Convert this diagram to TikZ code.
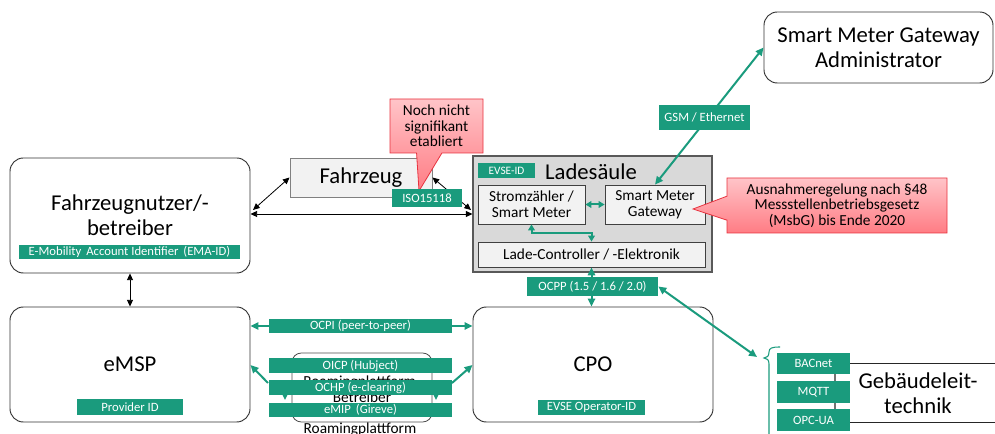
\documentclass[tikz,border=0pt]{standalone}
\usepackage{fontspec}
\setmainfont{Carlito}
\usetikzlibrary{shapes.callouts,arrows.meta}

\definecolor{tealc}{HTML}{1A9B7D}
\definecolor{notetop}{HTML}{FFC4C8}
\definecolor{notebot}{HTML}{FF7C84}
\definecolor{notered}{HTML}{E8323E}
\definecolor{lightfill}{HTML}{F2F2F2}
\definecolor{housefill}{HTML}{D9D9D9}

\newcommand\ftitle{\fontsize{17}{19}\selectfont}
\newcommand\fmid{\fontsize{11.5}{12}\selectfont}
\newcommand\fnote{\fontsize{11.5}{11.8}\selectfont}
\newcommand\ftag{\fontsize{9.5}{11}\selectfont}
\newcommand\fsmall{\fontsize{8.5}{10}\selectfont}

\tikzset{
  % a node spanning the pixel box (x1,y1)-(x2,y2)
  span/.style n args={4}{at={({(#1+#3)/2},{(#2+#4)/2})},
    minimum width={(#3-#1)*0.75pt}, minimum height={(#4-#2)*0.75pt}},
  rbox/.style={draw=black!80, line width=0.7pt, rounded corners=10pt, fill=white,
    inner sep=0pt, font=\ftitle, align=center},
  tag/.style={fill=tealc, text=white, inner sep=0pt, font=\ftag},
  inbox/.style={draw=black!75, line width=0.6pt, fill=lightfill, inner sep=0pt,
    font=\fmid, align=center},
  garrow/.style={draw=tealc, line width=1.5pt,
    {Triangle[length=6pt,width=5.5pt]}-{Triangle[length=6pt,width=5.5pt]}},
  gsingle/.style={draw=tealc, line width=1.5pt, -{Triangle[length=6pt,width=5.5pt]}},
  gshort/.style={draw=tealc, line width=1.5pt,
    {Triangle[length=4.5pt,width=5pt]}-{Triangle[length=4.5pt,width=5pt]}},
  karrow/.style={draw=black, line width=0.6pt,
    {Triangle[length=5pt,width=4.5pt]}-{Triangle[length=5pt,width=4.5pt]}},
  note/.style={rectangle callout, draw=notered, line width=0.6pt,
    top color=notetop, bottom color=notebot, inner sep=0pt, font=\fnote, align=center}
}

\begin{document}
\begin{tikzpicture}[x=0.75pt, y=-0.75pt]
\useasboundingbox (0,0) rectangle (995,434);

% ---- main actors ----
\node[rbox, span={10}{158}{250}{273}] (fnb) {};
\node[font=\ftitle, align=center, inner sep=0pt] (fnbtext) at (130,215)
  {Fahrzeugnutzer/-\\betreiber};
\node[tag, span={19}{245}{240}{259}] (emaid) {E-Mobility\, Account Identifier\, (EMA-ID)};

\node[rbox, span={10}{307}{250}{422}] (emsp) {eMSP};
\node[tag, span={77}{399}{183}{415}] (provid) {Provider ID};

\node[rbox, span={473}{307}{713}{422}] (cpo) {CPO};
\node[tag, span={538}{400}{645}{415}] (opid) {EVSE Operator-ID};

\node[rbox, span={764}{12}{993}{83}] (smga) {Smart Meter Gateway\\Administrator};

\node[draw=black!50, line width=0.7pt, fill=lightfill, inner sep=0pt, font=\ftitle,
  span={290}{158}{432}{197}] (fz) {Fahrzeug};

% ---- charging station ----
\node[draw=black!65, line width=0.8pt, fill=housefill, inner sep=0pt,
  span={473}{156}{712}{272}] (ls) {};
\node[tag, font=\fsmall, span={478}{163}{535}{178}] (evseid) {EVSE-ID};
\node[font=\ftitle, inner sep=0pt] (lstitle) at (591,172) {Ladesäule};
\node[inbox, span={478}{185}{585}{224}] (sz) {Stromzähler /\\Smart Meter};
\node[inbox, span={605}{185}{705}{224}] (smg) {Smart Meter\\Gateway};
\node[inbox, span={478}{242}{705}{267}] (lc) {Lade-Controller / -Elektronik};

% ---- roaming platform ----
\node[draw=black!70, line width=0.6pt, rounded corners=7pt, inner sep=0pt,
  span={292}{353}{432}{422}] (rp) {};
\node[font=\fmid, align=center, inner sep=0pt] (rptext) at (362,389)
  {Roamingplattform-\\Betreiber};
\node[font=\fmid, anchor=base, inner sep=0pt] (rplabel) at (360,433) {Roamingplattform};

% ---- building management ----
\node[font=\ftitle, align=center, inner sep=0pt] (glt) at (918,393) {Gebäudeleit-\\technik};
\coordinate (gltTL) at (850,363);
\coordinate (gltTR) at (995,363);
\coordinate (gltBL) at (850,422);
\coordinate (gltBR) at (995,422);
\draw[black!85, line width=0.7pt] (gltTL) -- (gltTR) (gltBL) -- (gltBR);

% ---- black connectors ----
\coordinate (vehL) at (252,214);
\coordinate (vehR) at (471,214);
\coordinate (diagL) at (253,210);
\coordinate (diagR) at (471,210);
\draw[karrow] (fnb.east |- vehL) -- (ls.west |- vehR);
\draw[karrow] (diagL) -- (fz.west);
\draw[karrow] (fz.east) -- (diagR);
\draw[karrow] (fnb.south) -- (fnb.south |- emsp.north);

% ---- green connectors ----
\draw[gshort] (sz.east) -- (smg.west);
\draw[gshort] (sz.south) -- ++(0,9) -| (lc.north);
\draw[garrow] (smg.north) -- (smga.west);
\draw[garrow] (lc.south) -- (lc.south |- cpo.north);

\node[tag, span={527}{277}{658}{296}] (ocpp) {OCPP (1.5 / 1.6 / 2.0)};
\node[tag, span={659}{105}{750}{130}] (gsm) {GSM / Ethernet};

% bracket grouping the building protocols
\coordinate (gtip) at (757,357);
\draw[tealc, line width=0.8pt] (780,347) .. controls (772,347) and (769,348) .. (769,352)
  .. controls (769,356) and (767,358) .. (764,358)
  .. controls (767,358) and (769,360) .. (769,364) -- (769,434);
\draw[garrow] (ocpp.east) -- (gtip);

\draw[draw=black!55, line width=0.8pt] (835,374) -- (835,409);
\node[tag, span={777}{353}{850}{374}] (bacnet) {BACnet};
\node[tag, span={777}{381}{850}{403}] (mqtt) {MQTT};
\node[tag, span={777}{409}{850}{431}] (opcua) {OPC-UA};

% roaming protocols
\node[tag, span={269}{319}{452}{333}] (ocpi) {OCPI (peer-to-peer)};
\draw[gsingle] (ocpi.west) -- (emsp.east |- ocpi.west);
\draw[gsingle] (ocpi.east) -- (cpo.west |- ocpi.east);

\coordinate (rpL) at (285,391);
\coordinate (rpLe) at (285,400);
\coordinate (rpR) at (436,391);
\coordinate (rpRe) at (436,400);
\draw[gsingle] (rpL) -- (rpLe);
\draw[gsingle] (rpR) -- (rpRe);

\coordinate (ochpL) at (268,383);
\coordinate (ochpR) at (452,383);
\draw[gsingle] (ochpL) -- (emsp.east |- 0,365);
\draw[gsingle] (ochpR) -- (cpo.west |- 0,365);

\node[tag, span={269}{358}{452}{373}] (oicp) {OICP (Hubject)};
\node[tag, span={269}{380}{452}{395}] (ochp) {OCHP (e-clearing)};
\node[tag, span={269}{403}{452}{417}] (emip) {eMIP\, (Gireve)};

% ---- notes ----
\node[note, minimum width=93*0.75pt, minimum height=54*0.75pt,
  callout absolute pointer={(419,191)}, callout pointer width=19pt] (n1) at (436.5,126)
  {Noch nicht\\signifikant\\etabliert};
\node[tag, span={392}{189}{462}{207}] (iso) {ISO15118};

\node[note, minimum width=220*0.75pt, minimum height=55*0.75pt,
  callout absolute pointer={(693,209)}, callout pointer width=18pt] (n2) at (837,205.5)
  {Ausnahmeregelung nach §48\\Messstellenbetriebsgesetz\\(MsbG) bis Ende 2020};
\end{tikzpicture}
\end{document}
